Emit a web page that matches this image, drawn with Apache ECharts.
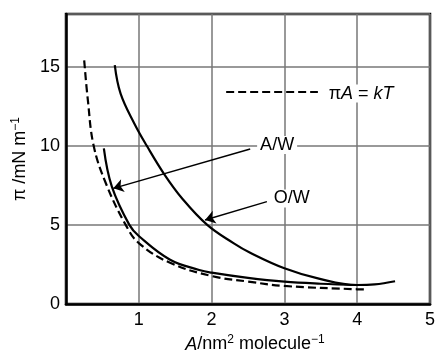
<!DOCTYPE html>
<html>
<head>
<meta charset="utf-8">
<script src="https://cdn.jsdelivr.net/npm/echarts@6/dist/echarts.min.js"></script>
<style>
  html, body { margin: 0; padding: 0; background: #fff; }
  #chart { width: 436px; height: 354px; }
</style>
</head>
<body>
<div id="chart"></div>
<script>
// curves: [A / nm^2 molecule^-1, pi / mN m^-1]
const idealKT = [[0.25, 15.4], [0.30, 12.9], [0.38, 10.0], [0.55, 7.6], [0.82, 5.0], [1.0, 3.85],
  [1.43, 2.6], [2.0, 1.77], [2.5, 1.42], [3.0, 1.14], [4.0, 0.93], [4.1, 0.92]];
const airWater = [[0.52, 9.84], [0.63, 7.42], [0.87, 5.0], [1.0, 4.3], [1.43, 2.8], [1.83, 2.15],
  [2.0, 1.98], [2.5, 1.65], [3.0, 1.41], [3.5, 1.28], [4.0, 1.2]];
const oilWater = [[0.67, 15.1], [0.75, 13.3], [0.94, 11.4], [1.11, 10.0], [1.35, 8.2], [1.59, 6.7],
  [1.94, 5.0], [2.3, 3.85], [2.53, 3.24], [3.0, 2.26], [3.46, 1.62], [4.0, 1.2], [4.24, 1.24], [4.52, 1.44]];

const xTicks = [1, 2, 3, 4, 5];
const yTicks = [0, 5, 10, 15];

// annotation anchors in data units
const awLabel = [2.9, 10.05];
const awArrow = [[2.53, 9.8], [0.65, 7.31]];
const owLabel = [3.1, 6.67];
const owArrow = [[2.76, 6.47], [1.91, 5.31]];
const keyLine = [[2.2, 13.4], [3.46, 13.4]];
const keyLabel = [3.56, 13.3];

const font = 'Liberation Sans, Arial, sans-serif';
const dash = [8, 4];

const chart = echarts.init(document.getElementById('chart'));

function arrow(seg) {
  return {
    silent: true,
    symbol: ['none', 'arrow'],
    symbolSize: 10,
    label: { show: false },
    lineStyle: { color: '#000', width: 1.5, type: 'solid' },
    data: [[{ coord: seg[0] }, { coord: seg[1] }]],
  };
}

function textMark(pos, text, position) {
  return {
    silent: true,
    symbol: 'circle',
    symbolSize: 1,
    itemStyle: { color: 'transparent' },
    label: {
      show: true,
      position: position,
      distance: 0,
      formatter: text,
      color: '#000',
      fontFamily: font,
      fontSize: 18,
      backgroundColor: '#fff',
      padding: [0, 3],
      rich: { i: { fontStyle: 'italic', fontFamily: font, fontSize: 18 } },
    },
    data: [{ coord: pos }],
  };
}

const curve = {
  type: 'line',
  smooth: 0.4,
  showSymbol: false,
};

chart.setOption({
  animation: false,
  backgroundColor: '#fff',
  grid: {
    left: 66, right: 6, top: 14, bottom: 50,
    outerBoundsMode: 'none',
    show: true, borderColor: '#000', borderWidth: 2.5,
  },
  xAxis: {
    type: 'value',
    min: 0,
    max: 5,
    interval: 1,
    name: '{i|A}/nm{sup|2} molecule{sup|−1}',
    nameLocation: 'middle',
    nameGap: 30,
    nameTextStyle: {
      color: '#000', fontFamily: font, fontSize: 18, padding: [0, 0, 0, 14],
      rich: {
        i: { fontStyle: 'italic', fontFamily: font, fontSize: 18 },
        sup: { fontFamily: font, fontSize: 12, verticalAlign: 'bottom', padding: [0, 0, 9, 0] },
      },
    },
    axisLine: { lineStyle: { color: '#000', width: 2.5 } },
    axisTick: { show: false },
    axisLabel: {
      color: '#000', fontFamily: font, fontSize: 18, margin: 7,
      formatter: (v) => (xTicks.includes(v) ? String(v) : ''),
    },
    splitLine: { show: true, lineStyle: { color: '#777', width: 1.5 } },
  },
  yAxis: {
    type: 'value',
    min: 0,
    max: 18.33,
    interval: 5,
    name: 'π /mN m{sup|−1}',
    nameLocation: 'middle',
    nameRotate: 90,
    nameGap: 32,
    nameTextStyle: {
      color: '#000', fontFamily: font, fontSize: 18,
      rich: { sup: { fontFamily: font, fontSize: 12, verticalAlign: 'bottom', padding: [0, 0, 9, 0] } },
    },
    axisLine: { show: true, lineStyle: { color: '#000', width: 2.5 } },
    axisTick: { show: false },
    axisLabel: {
      color: '#000', fontFamily: font, fontSize: 18, margin: 6,
      formatter: (v) => (yTicks.includes(v) ? String(v) : ''),
    },
    splitLine: { show: true, lineStyle: { color: '#777', width: 1.5 } },
  },
  series: [
    {
      ...curve,
      name: 'πA = kT',
      data: idealKT,
      lineStyle: { color: '#000', width: 2.2, type: dash },
      markLine: {
        silent: true,
        symbol: 'none',
        label: { show: false },
        lineStyle: { color: '#000', width: 2, type: dash },
        data: [[{ coord: keyLine[0] }, { coord: keyLine[1] }]],
      },
      markPoint: textMark(keyLabel, 'π{i|A} = {i|kT}', 'right'),
    },
    {
      ...curve,
      name: 'A/W',
      data: airWater,
      lineStyle: { color: '#000', width: 2.2 },
      markLine: arrow(awArrow),
      markPoint: textMark(awLabel, 'A/W', 'inside'),
    },
    {
      ...curve,
      name: 'O/W',
      data: oilWater,
      lineStyle: { color: '#000', width: 2.2 },
      markLine: arrow(owArrow),
      markPoint: textMark(owLabel, 'O/W', 'inside'),
    },
  ],
});
</script>
</body>
</html>
